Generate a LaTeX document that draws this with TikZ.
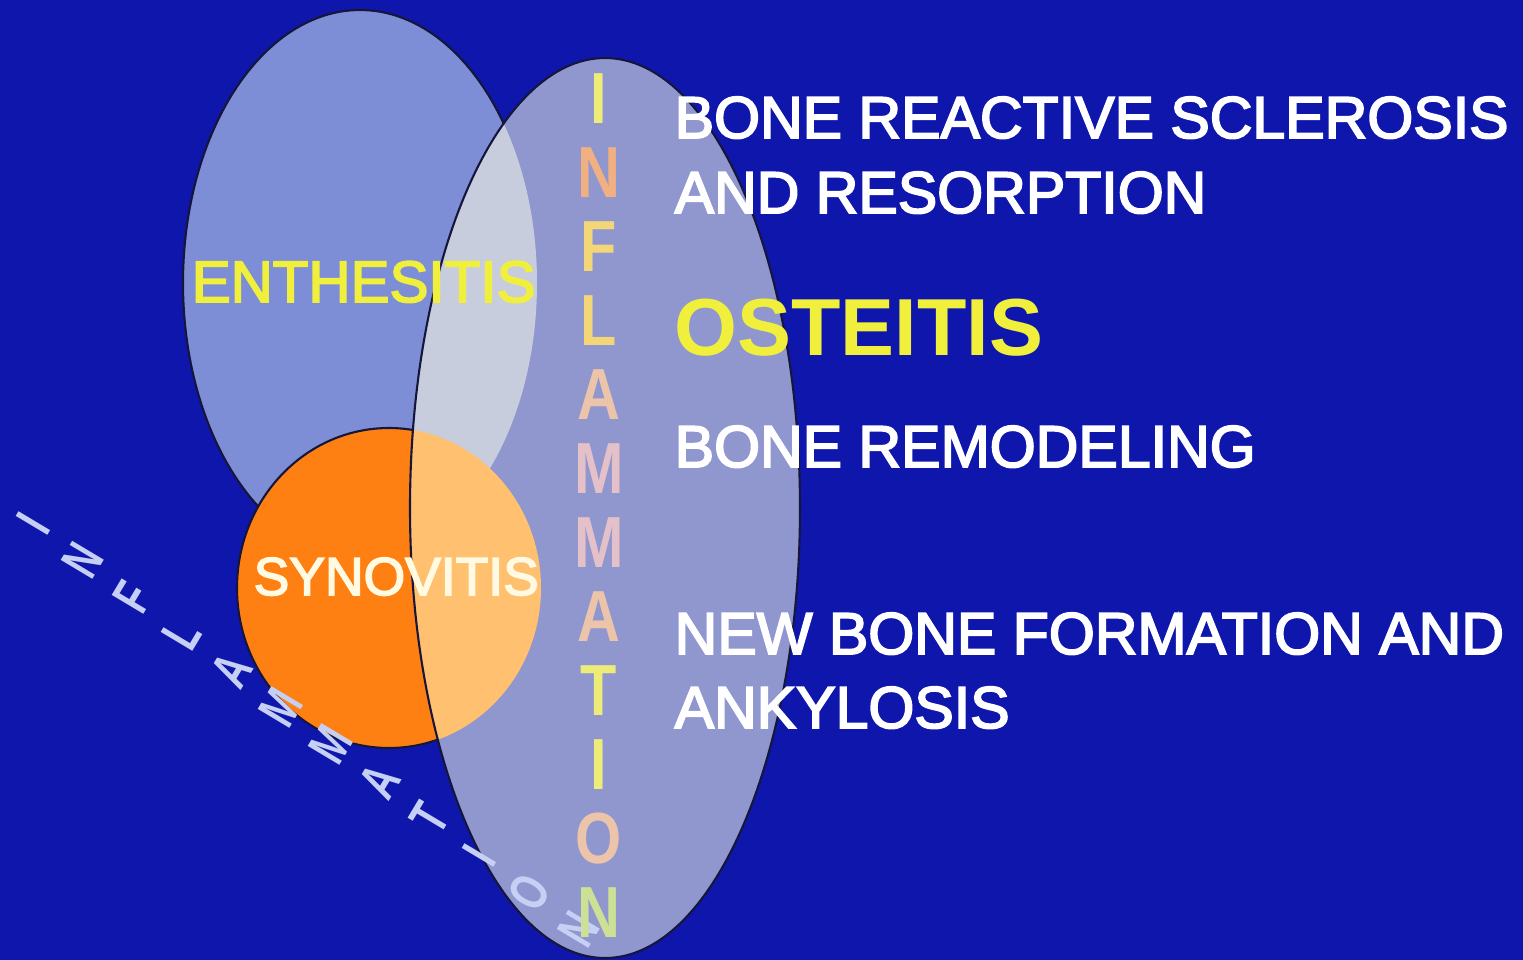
\documentclass[tikz,border=0pt]{standalone}
\usepackage{fontspec}
\setmainfont{Liberation Sans}
\newfontfamily\slidefont[FakeBold=3]{Liberation Sans}
\usetikzlibrary{positioning}

\definecolor{slidebg}{RGB}{14,22,172}
\definecolor{enthfill}{RGB}{126,142,214}
\definecolor{inflfill}{RGB}{144,150,206}
\definecolor{enthinfl}{RGB}{200,205,222}
\definecolor{synofill}{RGB}{255,128,18}
\definecolor{synoinfl}{RGB}{255,192,112}
\definecolor{rimline}{RGB}{22,22,60}
\definecolor{labyellow}{RGB}{240,240,60}
\definecolor{labcream}{RGB}{255,250,225}
\definecolor{shadowtxt}{RGB}{198,208,244}
\definecolor{lemon}{RGB}{238,236,120}
\definecolor{peach}{RGB}{240,176,130}
\definecolor{apricot}{RGB}{242,214,120}
\definecolor{rosy}{RGB}{236,196,170}
\definecolor{lilac}{RGB}{228,192,200}
\definecolor{mint}{RGB}{205,225,150}

\begin{document}
\begin{tikzpicture}[x=0.01cm,y=-0.01cm,
  rim/.style={draw=rimline, line width=0.6pt},
  sidetext/.style={anchor=base west, inner sep=0pt, text=white,
    font=\slidefont\fontsize{16.8}{20}\selectfont},
  vletter/.style={inner sep=0pt, xscale=0.82, transform shape,
    font=\bfseries\fontsize{20.6}{24}\selectfont},
  shadowletter/.style={inner sep=0pt, text=shadowtxt, transform shape,
    cm={0.27,0.45,-0.635,0.38,(0,0)},
    font=\bfseries\fontsize{20.6}{24}\selectfont}]

%---------------------------------------
% Shape data (pixels of the slide)
%---------------------------------------
\def\EnX{360}  \def\EnY{283} \def\EnRx{177} \def\EnRy{273}  % enthesitis
\def\SyX{389}  \def\SyY{588} \def\SyRx{152} \def\SyRy{160}  % synovitis
\def\InX{605}  \def\InY{508} \def\InRx{195} \def\InRy{450}  % inflammation

\useasboundingbox (0,0) rectangle (1523,960);
\fill[slidebg] (0,0) rectangle (1523,960);

%====================================================
% Overlapping ellipses
%====================================================
\filldraw[enthfill, rim] (\EnX,\EnY) ellipse [x radius=\EnRx, y radius=\EnRy];
\filldraw[synofill, rim] (\SyX,\SyY) ellipse [x radius=\SyRx, y radius=\SyRy];

\fill[inflfill] (\InX,\InY) ellipse [x radius=\InRx, y radius=\InRy];

% ---- overlaps inside the inflammation ellipse ----
\begin{scope}
  \clip (\InX,\InY) ellipse [x radius=\InRx, y radius=\InRy];
  \fill[enthinfl] (\EnX,\EnY) ellipse [x radius=\EnRx, y radius=\EnRy];
  \fill[synoinfl] (\SyX,\SyY) ellipse [x radius=\SyRx, y radius=\SyRy];
\end{scope}

\draw[rim] (\InX,\InY) ellipse [x radius=\InRx, y radius=\InRy];

%====================================================
% Labels in the ellipses
%====================================================
\node[anchor=base west, inner sep=0pt, text=labyellow,
  font=\slidefont\fontsize{16.6}{20}\selectfont] (enth) at (191,302) {ENTHESITIS};
\node[anchor=base west, inner sep=0pt, text=labcream,
  font=\slidefont\fontsize{15.2}{18}\selectfont] (syno) at (253,595) {SYNOVITIS};

% slanted shadow of the word
\foreach \ch [count=\i from 0] in {I,N,F,L,A,M,M,A,T,I,O,N}
  \path ({33+49.6*\i},{523+36.9*\i}) node[shadowletter] (dl\i) {\ch};

% vertical word
\foreach \ch/\col [count=\i from 0] in
  {I/lemon, N/peach, F/apricot, L/apricot, A/rosy, M/lilac,
   M/lilac, A/rosy, T/lemon, I/lemon, O/rosy, N/mint}
  \path (599,{99+74*\i}) node[vletter, text=\col] (vl\i) {\ch};

%====================================================
% Right column
%====================================================
\node[sidetext] (brs) at (674,138) {BONE REACTIVE SCLEROSIS};
\node[sidetext] (ares) at (674,213) {AND RESORPTION};
\node[anchor=base west, inner sep=0pt, text=labyellow,
  font=\bfseries\fontsize{23}{26}\selectfont] (ost) at (674,355) {OSTEITIS};
\node[sidetext] (brem) at (674,467) {BONE REMODELING};
\node[sidetext] (nbf) at (674,654) {NEW BONE FORMATION AND};
\node[sidetext] (ank) at (674,728) {ANKYLOSIS};

\end{tikzpicture}
\end{document}
